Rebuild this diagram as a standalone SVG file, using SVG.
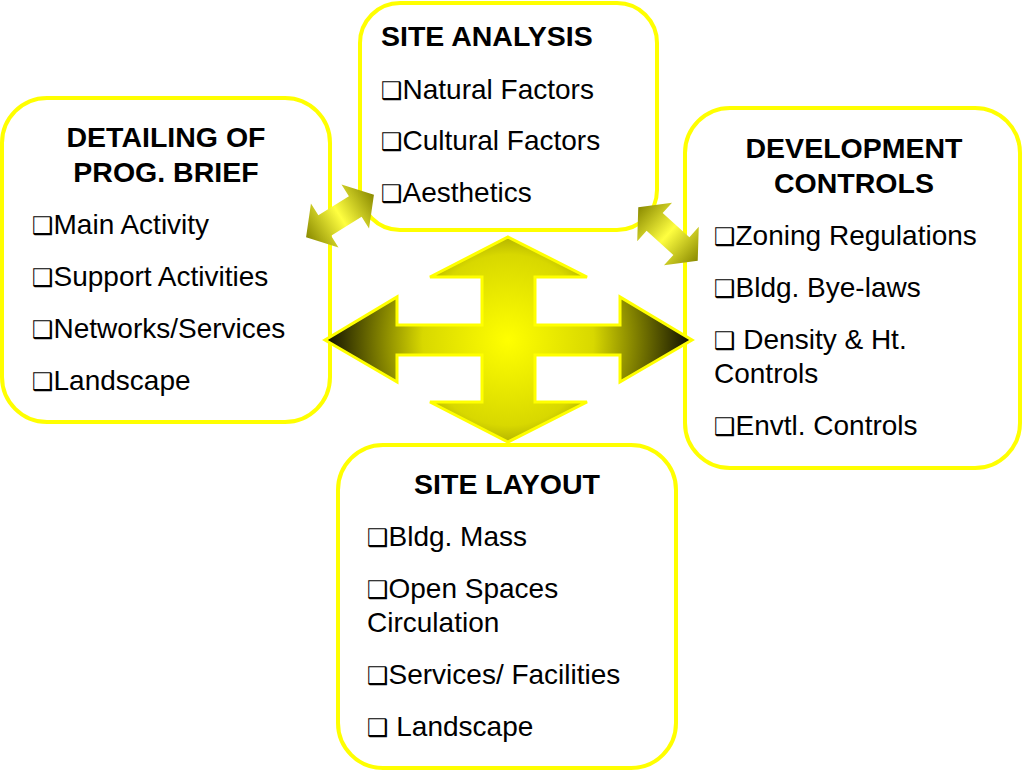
<svg xmlns="http://www.w3.org/2000/svg" width="1024" height="772" viewBox="0 0 1024 772">
<defs>
<radialGradient id="g4" cx="508" cy="340" r="190" gradientUnits="userSpaceOnUse">
<stop offset="0" stop-color="#ffff00"/><stop offset="0.45" stop-color="#d8d800"/><stop offset="1" stop-color="#000000"/>
</radialGradient>
<linearGradient id="gs" x1="0" y1="0" x2="1" y2="0">
<stop offset="0" stop-color="#8a8a00"/><stop offset="0.5" stop-color="#ffff40"/><stop offset="1" stop-color="#8a8a00"/>
</linearGradient>
<path id="dbl" d="M-40 0 L-18 -26 L-18 -12 L18 -12 L18 -26 L40 0 L18 26 L18 12 L-18 12 L-18 26 Z"/>
</defs>
<style>
.box{fill:#fff;stroke:#ffff00;stroke-width:4}
text{font-family:"Liberation Sans",Arial,sans-serif;font-size:28px;fill:#000}
.t{font-weight:bold;font-size:28.5px}
.c{font-family:"DejaVu Sans",sans-serif;font-size:24px;font-weight:bold}
</style>
<rect width="1024" height="772" fill="#fff"/>
<g id="site-analysis"><rect class="box" x="360" y="3" width="297" height="227" rx="40"/>
<text class="t" x="381" y="46">SITE ANALYSIS</text>
<text x="381" y="99"><tspan class="c">❑</tspan>Natural Factors</text>
<text x="381" y="150"><tspan class="c">❑</tspan>Cultural Factors</text>
<text x="381" y="202"><tspan class="c">❑</tspan>Aesthetics</text></g>
<g id="prog-brief"><rect class="box" x="2" y="98" width="328" height="324" rx="45"/>
<text class="t" x="166" y="147" text-anchor="middle">DETAILING OF</text>
<text class="t" x="166" y="182" text-anchor="middle">PROG. BRIEF</text>
<text x="32" y="234"><tspan class="c">❑</tspan>Main Activity</text>
<text x="32" y="286"><tspan class="c">❑</tspan>Support Activities</text>
<text x="32" y="338"><tspan class="c">❑</tspan>Networks/Services</text>
<text x="32" y="390"><tspan class="c">❑</tspan>Landscape</text></g>
<g id="dev-controls"><rect class="box" x="685" y="108" width="335" height="360" rx="45"/>
<text class="t" x="854" y="158" text-anchor="middle">DEVELOPMENT</text>
<text class="t" x="854" y="193" text-anchor="middle">CONTROLS</text>
<text x="714" y="245"><tspan class="c">❑</tspan>Zoning Regulations</text>
<text x="714" y="297"><tspan class="c">❑</tspan>Bldg. Bye-laws</text>
<text x="714" y="349"><tspan class="c">❑</tspan> Density &amp; Ht.</text>
<text x="714" y="383">Controls</text>
<text x="714" y="435"><tspan class="c">❑</tspan>Envtl. Controls</text></g>
<g id="site-layout"><rect class="box" x="338" y="445" width="338" height="323" rx="45"/>
<text class="t" x="507" y="494" text-anchor="middle">SITE LAYOUT</text>
<text x="367" y="546"><tspan class="c">❑</tspan>Bldg. Mass</text>
<text x="367" y="598"><tspan class="c">❑</tspan>Open Spaces</text>
<text x="367" y="632">Circulation</text>
<text x="367" y="684"><tspan class="c">❑</tspan>Services/ Facilities</text>
<text x="367" y="736"><tspan class="c">❑</tspan> Landscape</text></g>
<g id="connectors">
<path d="M508 237 L587 277 L535 277 L535 325 L620 325 L620 297 L692 340 L620 382 L620 355 L535 355 L535 402 L587 402 L508 442 L430 402 L482 402 L482 355 L397 355 L397 382 L325 340 L397 297 L397 325 L482 325 L482 277 L430 277 Z" fill="url(#g4)" stroke="#ffff00" stroke-width="3" stroke-linejoin="miter"/>
<use href="#dbl" transform="translate(340,216) rotate(-32)" fill="url(#gs)"/>
<use href="#dbl" transform="translate(668,234) rotate(42)" fill="url(#gs)"/>
</g>
</svg>
